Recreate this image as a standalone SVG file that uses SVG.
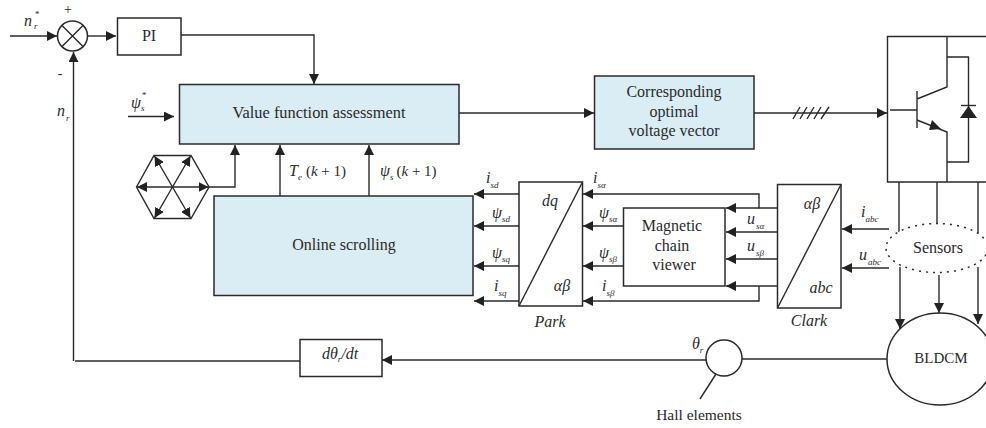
<svg xmlns="http://www.w3.org/2000/svg" width="986" height="428" viewBox="0 0 986 428">
<style>
text{font-family:"Liberation Serif","Times New Roman",serif;font-size:16px;fill:#2a2a2a}
.m{text-anchor:middle}
.i{font-style:italic}
.s{font-style:italic;font-size:9px}
.u{font-style:normal;font-size:15px}
.l{fill:none;stroke:#2a2a2a;stroke-width:1.4}
.b{fill:#fff;stroke:#2a2a2a;stroke-width:1.5}
.c{fill:#daedf4;stroke:#2a2a2a;stroke-width:1.5}
.a{fill:none;stroke:#2a2a2a;stroke-width:1.4;marker-end:url(#ah)}
</style>
<defs>
<marker id="ah" markerUnits="userSpaceOnUse" markerWidth="11" markerHeight="10" refX="10" refY="5" orient="auto"><path d="M0 0L10 5L0 10Z" fill="#222"/></marker>
</defs>
<rect width="986" height="428" fill="#fff"/>
<g id="connectors">
<path class="a" d="M10 36H57"/>
<path class="a" d="M87 36H116"/>
<path class="a" d="M181 35H314V84"/>
<path class="a" d="M128 116.500H174"/>
<path class="a" d="M209 187H235V145"/>
<path class="a" d="M280 196V145"/>
<path class="a" d="M369 196V145"/>
<path class="a" d="M459 113H594"/>
<path class="a" d="M754 113H887"/>
<path class="l" d="M793 119L800 107M800 119L807 107M807 119L814 107M814 119L821 107M821 119L829 107"/>
<path class="a" d="M519 194H474"/>
<path class="a" d="M519 226H474"/>
<path class="a" d="M519 266H474"/>
<path class="a" d="M519 301H474"/>
<path class="a" d="M623 226H583"/>
<path class="a" d="M623 266H583"/>
<path class="a" d="M777 208H759V194H583"/>
<path class="a" d="M759 208H726"/>
<path class="a" d="M777 232H726"/>
<path class="a" d="M777 259H726"/>
<path class="a" d="M777 286H726"/>
<path class="a" d="M759 286V301H583"/>
<path class="a" d="M889 229H842"/>
<path class="a" d="M889 268H842"/>
<path class="l" d="M899 182V233M937 182V224M978 182V233"/>
<path class="a" d="M900 267V329"/>
<path class="a" d="M939 275V313"/>
<path class="a" d="M978 267V324"/>
<path class="l" d="M742 359H887"/>
<path class="a" d="M706 360H382"/>
<path class="l" d="M300 361H75"/>
<path class="a" d="M73.500 361V52"/>
<path class="l" d="M716 374L700 399"/>
</g>
<g id="sum">
<circle class="b" cx="72.500" cy="36" r="15"/>
<path class="l" d="M62 25.500L83 46.500M83 25.500L62 46.500"/>
<text class="m" x="68" y="14" style="font-size:14px">+</text>
<text class="m" x="60" y="78" style="font-size:14px">-</text>
</g>
<g id="pi"><rect class="b" x="117.500" y="18" width="63.500" height="37"/><text class="m" x="149" y="41">PI</text></g>
<g id="value"><rect class="c" x="179.500" y="84.500" width="279.500" height="59.500"/><text class="m" x="319" y="118" style="font-size:16.400px">Value function assessment</text></g>
<g id="optimal"><rect class="c" x="594.500" y="76" width="159.500" height="73"/>
<text class="m" x="674" y="97">Corresponding</text><text class="m" x="674" y="117">optimal</text><text class="m" x="674" y="136">voltage vector</text></g>
<g id="online"><rect class="c" x="214" y="196" width="259" height="99.500"/><text class="m" x="344" y="250">Online scrolling</text></g>
<g id="hexagon">
<path class="l" d="M154 155.500H191L209 187L191 218.500H154L136.500 187Z"/>
<path class="a" d="M172.500 187H137"/><path class="a" d="M172.500 187H208.500"/>
<path class="a" d="M172.500 187L154.500 156"/><path class="a" d="M172.500 187L190.500 156"/>
<path class="a" d="M172.500 187L154.500 218"/><path class="a" d="M172.500 187L190.500 218"/>
</g>
<g id="park"><rect class="b" x="519" y="182" width="63.500" height="124"/><path class="l" d="M519 306L582.500 182"/>
<text class="m i" x="550" y="206">dq</text><text class="m i" x="562" y="291">αβ</text><text class="m i" x="550" y="327">Park</text></g>
<g id="viewer"><rect class="b" x="623.500" y="208" width="101.500" height="78"/>
<text class="m" x="672" y="231">Magnetic</text><text class="m" x="672" y="251">chain</text><text class="m" x="674" y="270">viewer</text></g>
<g id="clark"><rect class="b" x="777.500" y="184.500" width="63.500" height="123.500"/><path class="l" d="M777.500 308L841 184.500"/>
<text class="m i" x="812" y="209">αβ</text><text class="m i" x="821" y="293">abc</text><text class="m i" x="809" y="326">Clark</text></g>
<g id="inverter">
<path class="l" d="M986 36.500H887.500V182H986"/>
<path class="l" d="M947 36.500V87L917 99M917 91V128M917 110H890M917 120L947 132V182M947 57H968.500V162H947"/>
<path d="M929 130L932 120L941 129Z" fill="#222"/>
<path d="M960 118L968.500 106L977 118Z" fill="#222"/><path class="l" d="M961 105.500H976"/>
</g>
<g id="sensors"><ellipse cx="937" cy="248" rx="51" ry="24.500" fill="#fff" stroke="#2a2a2a" stroke-width="1.5" stroke-dasharray="2 5"/><text class="m" x="938" y="253">Sensors</text></g>
<g id="bldcm"><ellipse cx="940" cy="359" rx="53" ry="46" fill="#fff" stroke="#2a2a2a" stroke-width="1.5"/><text class="m" x="941" y="363" style="font-size:15px">BLDCM</text></g>
<g id="derivative"><rect class="b" x="300" y="339.500" width="82" height="37"/><text class="i" x="322" y="359">dθ<tspan class="s" dy="3">r</tspan><tspan dy="-3">/dt</tspan></text></g>
<g id="hall"><circle class="b" cx="724" cy="358" r="18"/><text class="i" x="692" y="349">θ<tspan class="s" dy="4">r</tspan></text><text class="m" x="699" y="420" style="font-size:15.500px">Hall elements</text></g>
<g id="labels">
<text class="i" x="24" y="26">n<tspan class="s" dx="2" dy="3">r</tspan><tspan class="s" dx="-3" dy="-12">*</tspan></text>
<text class="i" x="57" y="116">n<tspan class="s" dx="1" dy="5">r</tspan></text>
<text class="i" x="131" y="108">ψ<tspan class="s" dy="3">s</tspan><tspan class="s" dx="-3" dy="-13">*</tspan></text>
<text class="i" x="289" y="176">T<tspan class="s" dy="4">e</tspan><tspan class="u" dx="4" dy="-4">(</tspan><tspan class="u" style="font-style:italic">k</tspan><tspan class="u"> + 1)</tspan></text>
<text class="i" x="380" y="176">ψ<tspan class="s" dy="4">s</tspan><tspan class="u" dx="3" dy="-4">(</tspan><tspan class="u" style="font-style:italic">k</tspan><tspan class="u"> + 1)</tspan></text>
<text class="i" x="486" y="183">i<tspan class="s" dx="0" dy="5">sd</tspan></text>
<text class="i" x="492" y="218">ψ<tspan class="s" dy="4">sd</tspan></text>
<text class="i" x="492" y="258">ψ<tspan class="s" dy="4">sq</tspan></text>
<text class="i" x="494" y="291">i<tspan class="s" dy="5">sq</tspan></text>
<text class="i" x="593" y="183">i<tspan class="s" dy="5">sα</tspan></text>
<text class="i" x="599" y="218">ψ<tspan class="s" dy="4">sα</tspan></text>
<text class="i" x="599" y="258">ψ<tspan class="s" dy="4">sβ</tspan></text>
<text class="i" x="602" y="291">i<tspan class="s" dy="5">sβ</tspan></text>
<text class="i" x="747" y="224">u<tspan class="s" dx="1" dy="5">sα</tspan></text>
<text class="i" x="747" y="251">u<tspan class="s" dx="1" dy="5">sβ</tspan></text>
<text class="i" x="861" y="217">i<tspan class="s" dy="5">abc</tspan></text>
<text class="i" x="859" y="260">u<tspan class="s" dx="1" dy="5">abc</tspan></text>
</g>
</svg>
